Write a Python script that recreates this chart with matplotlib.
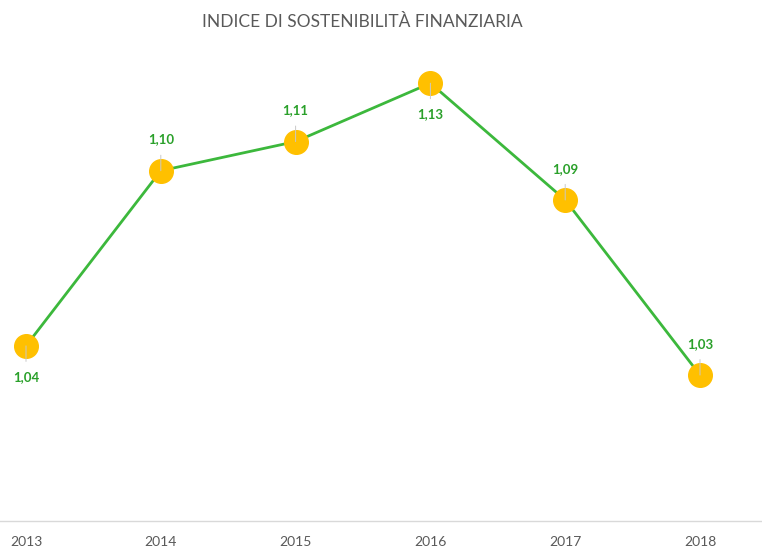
import matplotlib.pyplot as plt

# dati dell'indice
anni = ['2013', '2014', '2015', '2016', '2017', '2018']
indice = [1.04, 1.10, 1.11, 1.13, 1.09, 1.03]
# posizione etichetta: sopra (+1) o sotto (-1) il punto
posizione = [-1, 1, 1, -1, 1, 1]

plt.rcParams['font.family'] = ['Lato', 'DejaVu Sans']

fig = plt.figure(figsize=(7.62, 5.49), dpi=100)
ax = fig.add_axes([0, 1 - 521 / 549, 1, (521 - 54) / 549])

x = list(range(len(anni)))
ax.plot(x, indice, color='#3cb83c', lw=2.0, zorder=2,
        marker='o', markersize=17, markerfacecolor='#ffc000',
        markeredgecolor='#ffc000')

for xi, v, p in zip(x, indice, posizione):
    ax.annotate(('%.2f' % v).replace('.', ','), xy=(xi, v),
                xytext=(0, 22.5 * p), textcoords='offset points',
                ha='center', va='center', fontsize=9.5, fontweight='bold',
                color='#2aa02a',
                arrowprops=dict(arrowstyle='-', color='#c8c8c8', lw=0.7,
                                shrinkA=5, shrinkB=0), zorder=3)

ax.set_xlim(-26 / 134.8, (762 - 26) / 134.8)
ax.set_ylim(0.98, 1.14)
ax.set_xticks(x)
ax.set_xticklabels(anni)
ax.set_yticks([])
ax.tick_params(axis='x', length=0, pad=11, labelsize=10, labelcolor='#595959')
for s in ['top', 'left', 'right']:
    ax.spines[s].set_visible(False)
ax.spines['bottom'].set_color('#d9d9d9')
ax.spines['bottom'].set_linewidth(1)

fig.text(362 / 762, 1 - 22 / 549, 'INDICE DI SOSTENIBILITÀ FINANZIARIA',
         ha='center', va='center', fontsize=12.5, color='#595959')

plt.savefig('out.png', dpi=100)
